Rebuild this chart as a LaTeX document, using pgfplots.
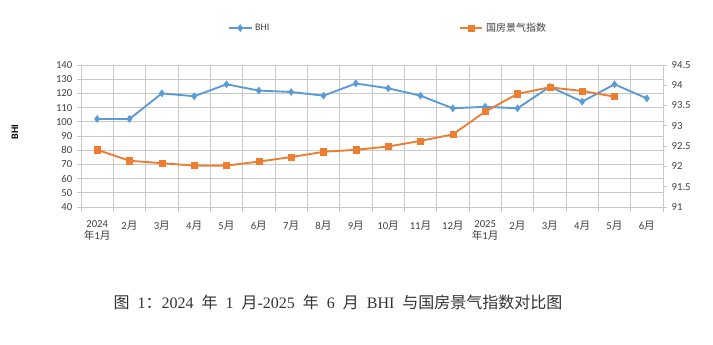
\documentclass[border=0pt]{standalone}
\usepackage{fontspec}
\setmainfont{Carlito}
\newfontfamily\cjk{Noto Sans CJK SC}
\newfontfamily\capser[WordSpace={2,0,0}]{Liberation Serif}
\usepackage{pgfplots}
\pgfplotsset{compat=1.18}
\definecolor{bhiblue}{RGB}{91,155,213}
\definecolor{gforange}{RGB}{237,125,49}
\definecolor{gridgray}{RGB}{200,200,200}
\definecolor{txt}{RGB}{64,64,64}
\pgfplotsset{
  bhistyle/.style={color=bhiblue, line width=1.4pt, mark=diamond*, mark size=2.6pt, mark options={solid, fill=bhiblue, draw=bhiblue, line width=0.4pt}},
  gfstyle/.style={color=gforange, line width=1.4pt, mark=square*, mark size=2.3pt, mark options={solid, fill=gforange, draw=gforange, line width=0.4pt}},
  common/.style={
    at={(60.75pt,102.75pt)}, anchor=south west,
    scale only axis, width=436.5pt, height=106.5pt,
    xmin=-0.5, xmax=17.5,
    tick label style={font=\fontsize{8}{8.8}\selectfont, text=txt},
    /pgf/number format/assume math mode=true,
    axis line style={gridgray, line width=0.6pt},
    tick style={gridgray, line width=0.6pt},
    tick align=outside,
  }
}
\begin{document}
\begin{tikzpicture}[x=1pt,y=1pt]
\path[use as bounding box] (0,0) rectangle (534.75,258);
\begin{axis}[common,
  ymin=40, ymax=140,
  ytick={40,50,...,140},
  ymajorgrids, xminorgrids,
  grid style={gridgray, line width=0.6pt},
  minor grid style={gridgray, line width=0.6pt},
  axis y line*=left, axis x line*=bottom,
  xtick={0,...,17},
  minor xtick={-0.5,0.5,...,17.5},
  major x tick style={draw=none},
  minor tick length=4pt,
  major tick length=3pt,
  xticklabels={{2024\\{\cjk 年}1{\cjk 月}},2{\cjk 月},3{\cjk 月},4{\cjk 月},5{\cjk 月},6{\cjk 月},7{\cjk 月},8{\cjk 月},9{\cjk 月},10{\cjk 月},11{\cjk 月},12{\cjk 月},{2025\\{\cjk 年}1{\cjk 月}},2{\cjk 月},3{\cjk 月},4{\cjk 月},5{\cjk 月},6{\cjk 月}},
  xticklabel style={align=center, anchor=north, yshift=-4pt},
  ylabel={\bfseries BHI},
  ylabel style={at={(axis description cs:-0.1134,0.528)}, anchor=center, font=\fontsize{7.5}{8}\selectfont, text=black},
]
\addplot[bhistyle] coordinates {
(0,102) (1,102) (2,120) (3,118) (4,126.4) (5,122) (6,121) (7,118.4) (8,127)
(9,123.6) (10,118.4) (11,109.5) (12,110.6) (13,109.5) (14,124.7) (15,114.2) (16,126.4) (17,116.5)};
\end{axis}
\begin{axis}[common,
  axis x line=none, axis y line*=right,
  ymin=91, ymax=94.5,
  ytick={91,91.5,...,94.5},
  major tick length=3pt,
  legend columns=2,
  legend style={at={(axis description cs:0.528,1.26)}, anchor=center, draw=none, fill=none,
    font=\fontsize{7.5}{9}\selectfont, text=txt},
  /tikz/every even column/.append style={column sep=140pt},
]
\addlegendimage{bhistyle}
\addlegendentry{BHI}
\addplot[gfstyle] coordinates {
(0,92.41) (1,92.14) (2,92.08) (3,92.02) (4,92.02) (5,92.12) (6,92.23) (7,92.36) (8,92.41)
(9,92.49) (10,92.63) (11,92.79) (12,93.35) (13,93.79) (14,93.95) (15,93.86) (16,93.72)};
\addlegendentry{{\cjk 国房景气指数}}
\end{axis}
\node[font=\fontsize{12}{14}\selectfont\capser, text=black!80] at (253.5,31.5)
  {{\cjk 图} 1{\cjk ：}2024 {\cjk 年} 1 {\cjk 月}-2025 {\cjk 年} 6 {\cjk 月} BHI {\cjk 与国房景气指数对比图}};
\end{tikzpicture}
\end{document}
